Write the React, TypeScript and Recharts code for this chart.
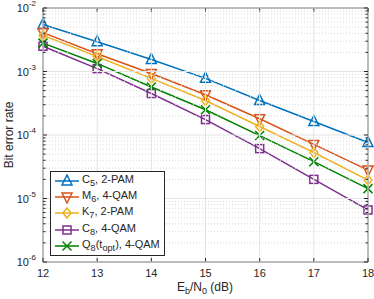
import React from "react"
import { LineChart, Line, XAxis, YAxis, ReferenceArea, Label } from "recharts"

// Eb/N0 in dB
const snr = [12, 13, 14, 15, 16, 17, 18]

// bit error rate per scheme
const c5 = [5.5e-3, 2.95e-3, 1.55e-3, 7.8e-4, 3.5e-4, 1.63e-4, 7.6e-5]
const m6 = [4.1e-3, 1.9e-3, 9.3e-4, 4.3e-4, 1.8e-4, 7.1e-5, 2.8e-5]
const k7 = [3.7e-3, 1.72e-3, 7.8e-4, 3.5e-4, 1.36e-4, 5.3e-5, 1.95e-5]
const c8 = [2.5e-3, 1.11e-3, 4.5e-4, 1.75e-4, 6.1e-5, 2.0e-5, 6.6e-6]
const q8 = [2.8e-3, 1.34e-3, 5.7e-4, 2.5e-4, 9.8e-5, 3.8e-5, 1.43e-5]

const decades = [-6, -5, -4, -3, -2]
const minorMult = [2, 3, 4, 5, 6, 7, 8, 9]

const W = 374
const H = 299
const LEFT = 43
const RIGHT = 368
const TOP = 8
const BOTTOM = 262
const INK = "#262626"
const FONT = "'Liberation Sans', Arial, sans-serif"

const rows = snr.map((x, i) => ({ snr: x, c5: c5[i], m6: m6[i], k7: k7[i], c8: c8[i], q8: q8[i] }))

const yTicks: number[] = []
decades.forEach((d) => {
  yTicks.push(Math.pow(10, d))
  if (d < -2) minorMult.forEach((m) => yTicks.push(m * Math.pow(10, d)))
})

type Shape = "up" | "down" | "diamond" | "square" | "x"

const Marker = ({ shape, cx, cy, color }: { shape: Shape; cx: number; cy: number; color: string }) => {
  const s = 5
  const common = { fill: "none", stroke: color, strokeWidth: 1.5 }
  if (shape === "up") return <polygon points={`${cx},${cy - s - 1} ${cx - s},${cy + s - 1} ${cx + s},${cy + s - 1}`} {...common} />
  if (shape === "down") return <polygon points={`${cx},${cy + s + 1} ${cx - s},${cy - s + 1} ${cx + s},${cy - s + 1}`} {...common} />
  if (shape === "diamond") return <polygon points={`${cx},${cy - s} ${cx + s - 1},${cy} ${cx},${cy + s} ${cx - s + 1},${cy}`} {...common} />
  if (shape === "square") return <rect x={cx - 4} y={cy - 4} width={8} height={8} {...common} />
  return (
    <g {...common}>
      <line x1={cx - 4.5} y1={cy - 4.5} x2={cx + 4.5} y2={cy + 4.5} />
      <line x1={cx - 4.5} y1={cy + 4.5} x2={cx + 4.5} y2={cy - 4.5} />
    </g>
  )
}

const series = [
  { key: "c5", color: "#0072BD", shape: "up" as Shape, name: <>C<sub>5</sub>, 2-PAM</> },
  { key: "m6", color: "#D95319", shape: "down" as Shape, name: <>M<sub>6</sub>, 4-QAM</> },
  { key: "k7", color: "#EDB120", shape: "diamond" as Shape, name: <>K<sub>7</sub>, 2-PAM</> },
  { key: "c8", color: "#7E2F8E", shape: "square" as Shape, name: <>C<sub>8</sub>, 4-QAM</> },
  { key: "q8", color: "#008000", shape: "x" as Shape, name: <>Q<sub>8</sub>(t<sub>opt</sub>), 4-QAM</> },
]

const XTick = (props: any) => {
  const { x, payload } = props
  return (
    <g>
      <line x1={x} y1={TOP} x2={x} y2={BOTTOM} stroke="#e3e3e3" />
      <line x1={x} y1={BOTTOM} x2={x} y2={BOTTOM - 4} stroke={INK} />
      <line x1={x} y1={TOP} x2={x} y2={TOP + 4} stroke={INK} />
      <text x={x} y={BOTTOM + 15} textAnchor="middle" fontSize={11} fill={INK} fontFamily={FONT}>
        {payload.value}
      </text>
    </g>
  )
}

const YTick = (props: any) => {
  const { y, payload } = props
  const v = payload.value as number
  const exp = Math.round(Math.log10(v))
  const major = Math.abs(v - Math.pow(10, exp)) < 1e-12
  const len = major ? 4 : 2.5
  return (
    <g>
      <line x1={LEFT} y1={y} x2={RIGHT} y2={y} stroke={major ? "#e3e3e3" : "#d8d8d8"} strokeDasharray={major ? undefined : "1 2"} />
      <line x1={LEFT} y1={y} x2={LEFT + len} y2={y} stroke={INK} />
      <line x1={RIGHT} y1={y} x2={RIGHT - len} y2={y} stroke={INK} />
      {major && (
        <text x={36} y={y + 4} textAnchor="end" fontSize={11} fill={INK} fontFamily={FONT}>
          <tspan>10</tspan>
          <tspan dy={-6} fontSize={8}>{exp}</tspan>
        </text>
      )}
    </g>
  )
}

const YLabel = () => (
  <text x={13} y={135} transform="rotate(-90 13 135)" textAnchor="middle" fontSize={12} fill={INK} fontFamily={FONT}>
    Bit error rate
  </text>
)

const XLabel = () => (
  <text x={205} y={291} textAnchor="middle" fontSize={12} fill={INK} fontFamily={FONT}>
    <tspan>E</tspan>
    <tspan dy={3} fontSize={9}>b</tspan>
    <tspan dy={-3}>/N</tspan>
    <tspan dy={3} fontSize={9}>0</tspan>
    <tspan dy={-3}> (dB)</tspan>
  </text>
)

const LegendBox = () => (
  <div
    style={{
      position: "absolute",
      left: 50,
      top: 171,
      border: `1px solid ${INK}`,
      background: "#fff",
      padding: "1px 4px 1px 2px",
      fontFamily: FONT,
      fontSize: 11,
      color: INK,
    }}
  >
    {series.map((s) => (
      <div key={s.key} style={{ display: "flex", alignItems: "center", height: 16.2, whiteSpace: "nowrap" }}>
        <svg width={28} height={14} style={{ flex: "none" }}>
          <line x1={2} y1={7} x2={26} y2={7} stroke={s.color} strokeWidth={1.5} />
          <Marker shape={s.shape} cx={14} cy={7} color={s.color} />
        </svg>
        <span style={{ marginLeft: 1, lineHeight: "12px" }}>{s.name}</span>
      </div>
    ))}
  </div>
)

export default function App() {
  return (
    <div style={{ position: "absolute", left: 0, top: 0, width: W, height: H, background: "#fff" }}>
      <LineChart width={W} height={H} data={rows} margin={{ top: TOP, right: W - RIGHT, bottom: 0, left: 0 }}>
        <XAxis
          dataKey="snr"
          type="number"
          domain={[12, 18]}
          ticks={snr}
          interval={0}
          axisLine={false}
          tickLine={false}
          height={H - BOTTOM}
          tick={<XTick />}
          label={<Label content={<XLabel />} />}
        />
        <YAxis
          scale="log"
          domain={[1e-6, 1e-2]}
          ticks={yTicks}
          interval={0}
          allowDataOverflow
          axisLine={false}
          tickLine={false}
          width={LEFT}
          tick={<YTick />}
          label={<Label content={<YLabel />} />}
        />
        <ReferenceArea x1={12} x2={18} y1={1e-6} y2={1e-2} fill="none" stroke={INK} strokeWidth={1} />
        {series.map((s) => (
          <Line
            key={s.key}
            dataKey={s.key}
            stroke={s.color}
            strokeWidth={1.5}
            isAnimationActive={false}
            activeDot={false}
            dot={(p: any) => <Marker key={`${s.key}-${p.index}`} shape={s.shape} cx={p.cx} cy={p.cy} color={s.color} />}
          />
        ))}
      </LineChart>
      <LegendBox />
    </div>
  )
}
